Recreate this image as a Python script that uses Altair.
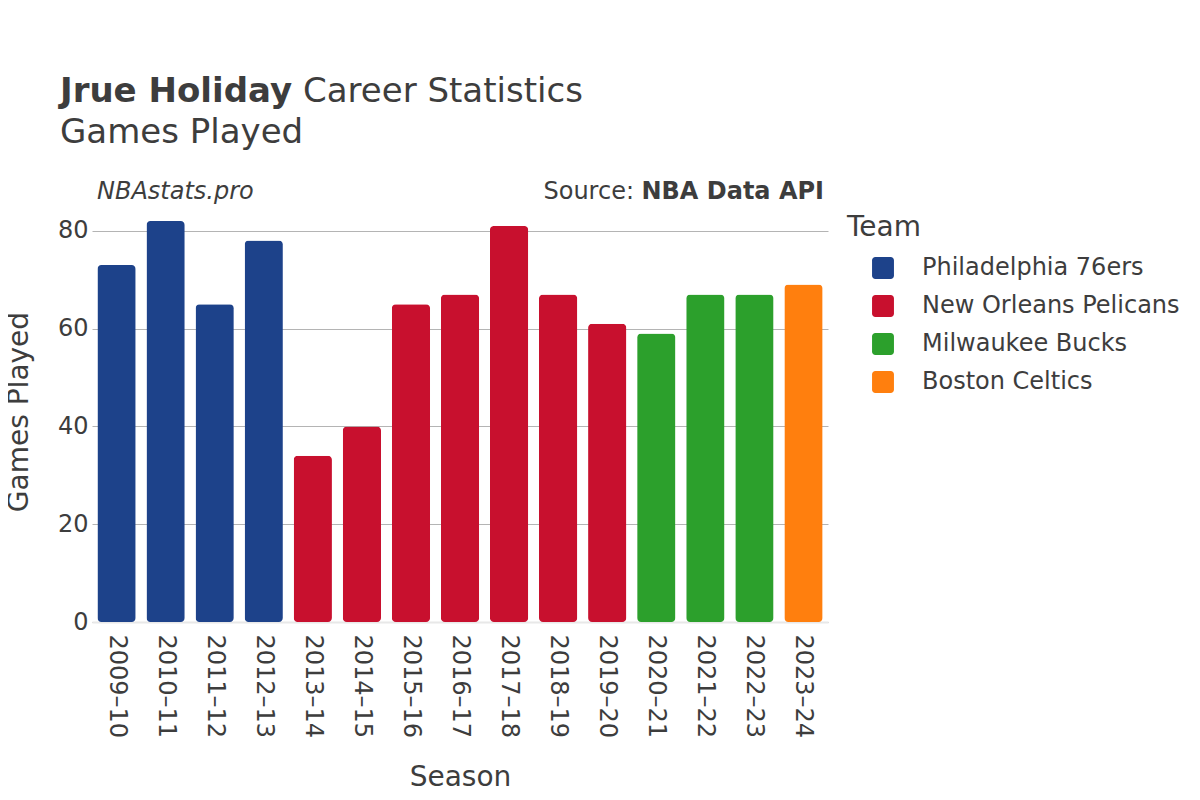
import altair as alt
import pandas as pd

seasons = ["2009–10", "2010–11", "2011–12", "2012–13", "2013–14", "2014–15", "2015–16",
           "2016–17", "2017–18", "2018–19", "2019–20", "2020–21", "2021–22", "2022–23", "2023–24"]
games = [73, 82, 65, 78, 34, 40, 65, 67, 81, 67, 61, 59, 67, 67, 69]
teams = ["Philadelphia 76ers"] * 4 + ["New Orleans Pelicans"] * 7 + ["Milwaukee Bucks"] * 3 + ["Boston Celtics"]
team_order = ["Philadelphia 76ers", "New Orleans Pelicans", "Milwaukee Bucks", "Boston Celtics"]
team_colors = ["#1D428A", "#C8102E", "#2CA02C", "#FF7F0E"]

df = pd.DataFrame({"Season": seasons, "Games": games, "Team": teams})
FONT = "DejaVu Sans"
TXT = "#3d3d3d"
ROUNDED_SQ = ("M-0.7,-1 H0.7 A0.3,0.3 0 0 1 1,-0.7 V0.7 A0.3,0.3 0 0 1 0.7,1 "
              "H-0.7 A0.3,0.3 0 0 1 -1,0.7 V-0.7 A0.3,0.3 0 0 1 -0.7,-1 Z")

bars = alt.Chart(df).mark_bar(cornerRadius=4).encode(
    x=alt.X("Season:N", sort=seasons, scale=alt.Scale(paddingInner=0.22, paddingOuter=0.11),
            axis=alt.Axis(title="Season", labelAngle=90, labelAlign="left", labelBaseline="middle",
                          labelFontSize=24, labelPadding=12, ticks=False, domain=True,
                          domainColor="#e8e8e8", domainWidth=2,
                          titleFontSize=28, titleFontWeight="normal", titlePadding=26)),
    y=alt.Y("Games:Q", scale=alt.Scale(domain=[0, 86.1], nice=False),
            axis=alt.Axis(title="Games Played", values=[0, 20, 40, 60, 80], labelFontSize=24,
                          ticks=False, domain=False, gridColor="#b4b4b4", gridWidth=1,
                          labelPadding=4, titleFontSize=28, titleFontWeight="normal", titlePadding=24)),
    color=alt.Color("Team:N", sort=team_order,
                    scale=alt.Scale(domain=team_order, range=team_colors),
                    legend=alt.Legend(title="Team", orient="none", legendX=755, legendY=13,
                                      titleFontSize=28, titleFontWeight="normal", labelFontSize=24,
                                      symbolType=ROUNDED_SQ, symbolSize=480, symbolStrokeWidth=0,
                                      symbolOffset=24, labelLimit=0,
                                      rowPadding=14, labelOffset=27, titlePadding=14,
                                      padding=0, offset=0)),
)

def txt(text, x, y, size, weight="normal", style="normal", align="left"):
    return alt.Chart(pd.DataFrame({"t": [text]})).mark_text(
        fontSize=size, fontWeight=weight, fontStyle=style, align=align, baseline="alphabetic",
        color=TXT, font=FONT
    ).encode(text="t:N", x=alt.value(x), y=alt.value(y))

t1 = txt("Jrue Holiday", -32, -99, 34, weight="bold")
t1b = txt("Career Statistics", 211, -99, 34)
t2 = txt("Games Played", -32, -58, 34)
t3 = txt("NBAstats.pro", 5, -2, 24, style="italic")
t4 = txt("NBA Data API", 732, -2, 24, weight="bold", align="right")
t5 = txt("Source:", 542, -2, 24, align="right")

chart = alt.layer(bars, t1, t1b, t2, t3, t4, t5).properties(
    width=736, height=421,
    padding={"left": 84, "top": 193, "right": 364, "bottom": 170},
    autosize=alt.AutoSizeParams(type="none"),
).configure(font=FONT).configure_view(stroke=None).configure_axis(
    labelColor=TXT, titleColor=TXT, labelFont=FONT, titleFont=FONT
).configure_legend(labelColor=TXT, titleColor=TXT, labelFont=FONT, titleFont=FONT)

chart.save("out.html", embed_options={"renderer": "svg", "actions": False})
